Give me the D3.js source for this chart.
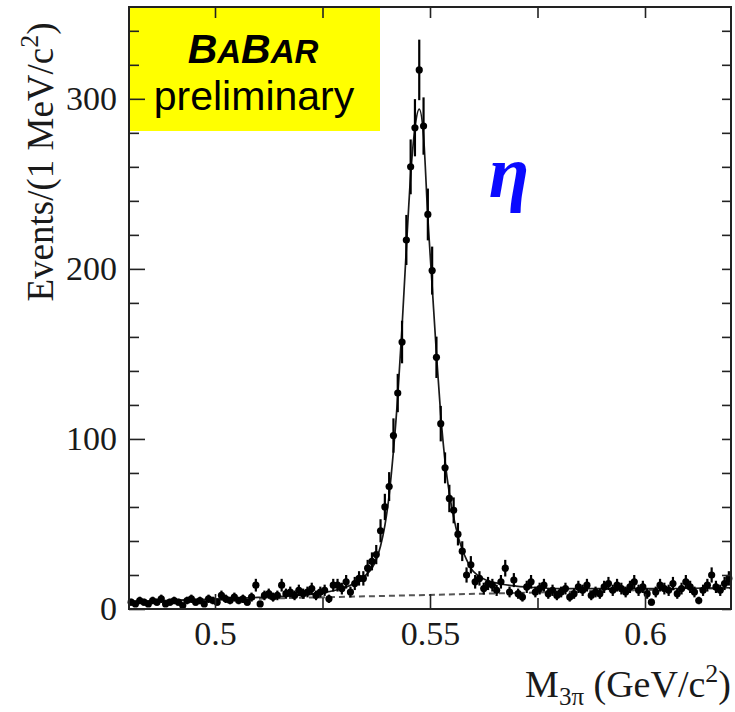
<!DOCTYPE html>
<html lang="en">
	<head>
		<meta charset="utf-8">
		<title>eta peak</title>
		<script src="https://d3js.org/d3.v7.min.js"></script>
		<style type="text/css">
			body { margin: 0; background: white; }
			.tick text {
				font-family: "Liberation Serif", "Times New Roman", serif;
				font-size: 34px;
				fill: #1a1a1a;
			}
			.tick line { stroke: #222; stroke-width: 1.6; }
			.title {
				font-family: "Liberation Serif", "Times New Roman", serif;
				font-size: 37px;
				fill: #1a1a1a;
			}
		</style>
	</head>
	<body>
		<div id="chart"></div>
		<script type="text/javascript">

			// M(3pi) histogram, 1 MeV bins from 0.480 to 0.620 GeV
			var binLow = 0.480;
			var binWidth = 0.001;
			var counts = [
				4,3,5,4,3,5,4,6,3,4,
				5,4,2,5,6,4,5,3,6,5,
				4,8,6,5,7,5,6,4,7,14,
				3,8,9,7,8,14,9,10,8,11,
				9,10,12,8,10,11,6,14,14,12,
				16,10,15,18,18,24,28,32,46,60,
				72,102,127,157,217,260,283,317,284,232,
				199,148,109,83,65,58,44,34,20,26,
				16,18,12,15,14,11,16,24,10,17,
				9,7,13,16,10,12,14,9,11,8,
				10,12,7,9,13,11,14,8,10,9,
				13,15,11,14,12,10,13,16,11,13,
				9,4,10,14,12,11,15,9,12,16,
				13,10,5,11,14,20,13,11,15,18
			];

			// total fit
			var fitMass = [0.480, 0.500, 0.510, 0.520, 0.525, 0.528, 0.530, 0.532, 0.534, 0.5355,
				0.5365, 0.5375, 0.5385, 0.5395, 0.5405, 0.5415, 0.5425, 0.5435, 0.5445, 0.5455,
				0.5465, 0.5475, 0.5485, 0.5495, 0.5505, 0.5515, 0.5525, 0.5535, 0.5545, 0.5555,
				0.5565, 0.5575, 0.5585, 0.5595, 0.561, 0.563, 0.566, 0.570, 0.575, 0.580, 0.600, 0.620];
			var fitVal = [4.4, 5.8, 6.8, 8.2, 9.5, 11, 12.5, 14.5, 18, 21,
				24, 29, 37, 49, 67, 93, 125, 166, 212, 255,
				283, 294, 278, 230, 190, 150, 114, 87, 68, 54,
				43, 35, 29, 24, 20, 17, 15, 13.5, 12.5, 12, 12, 12.5];

			// background (dashed)
			var bkgMass = [0.480, 0.620];
			var bkgVal = [4.3, 12.3];

			var xMajor = [0.5, 0.55, 0.6];
			var xMinor = [0.525, 0.575];
			var yMajor = [0, 100, 200, 300];
			var yMinor = [20, 40, 60, 80, 120, 140, 160, 180, 220, 240, 260, 280, 320, 340];

			var w = 735;
			var h = 712;
			// frame edges (note: "top" is taken by window.top)
			var x0 = 129, x1 = 731, y0 = 609, y1 = 7;

			var svg = d3.select("#chart")
				.append("svg")
				.attr("width", w)
				.attr("height", h);

			var xScale = d3.scaleLinear().domain([0.48, 0.62]).range([x0, x1]);
			var yScale = d3.scaleLinear().domain([0, 354]).range([y0, y1]);

			var data = counts.map(function(c, i) {
				return { m: binLow + (i + 0.5) * binWidth, n: c };
			});

			//yellow label box
			svg.append("rect")
				.attr("x", 130).attr("y", 8)
				.attr("width", 250).attr("height", 123)
				.style("fill", "#ffff00");

			var babar = svg.append("text")
				.attr("x", 253).attr("y", 63)
				.attr("text-anchor", "middle")
				.style("font-family", "'Liberation Sans', Arial, sans-serif")
				.style("font-weight", "bold")
				.style("font-style", "italic")
				.style("fill", "black");
			babar.append("tspan").style("font-size", "41px").text("B");
			babar.append("tspan").style("font-size", "33px").text("A");
			babar.append("tspan").style("font-size", "41px").text("B");
			babar.append("tspan").style("font-size", "33px").text("AR");

			svg.append("text")
				.attr("x", 254).attr("y", 110)
				.attr("text-anchor", "middle")
				.style("font-family", "'Liberation Sans', Arial, sans-serif")
				.style("font-size", "41px")
				.style("fill", "black")
				.text("preliminary");

			// eta label
			svg.append("text")
				.attr("x", 509).attr("y", 197)
				.attr("text-anchor", "middle")
				.style("font-family", "'Liberation Serif', 'Times New Roman', serif")
				.style("font-style", "italic")
				.style("font-weight", "bold")
				.style("font-size", "74px")
				.style("fill", "#0a0aff")
				.text("\u03b7");

			//background line
			var line = d3.line()
				.x(function(d) { return xScale(d[0]); })
				.y(function(d) { return yScale(d[1]); });

			svg.append("path")
				.datum(d3.zip(bkgMass, bkgVal))
				.attr("d", line)
				.style("fill", "none")
				.style("stroke", "#555")
				.style("stroke-width", 2)
				.style("stroke-dasharray", "6,4");

			// fit curve
			svg.append("path")
				.datum(d3.zip(fitMass, fitVal))
				.attr("d", line.curve(d3.curveMonotoneX))
				.style("fill", "none")
				.style("stroke", "#1a1a1a")
				.style("stroke-width", 1.7);

			// error bars
			var pts = svg.append("g");
			pts.selectAll("line.ey")
				.data(data)
				.enter()
				.append("line")
				.attr("class", "ey")
				.attr("x1", function(d) { return xScale(d.m); })
				.attr("x2", function(d) { return xScale(d.m); })
				.attr("y1", function(d) { return yScale(Math.max(d.n - Math.sqrt(d.n), 0)); })
				.attr("y2", function(d) { return yScale(d.n + Math.sqrt(d.n)); })
				.style("stroke", "black")
				.style("stroke-width", 2.2);

			pts.selectAll("line.ex")
				.data(data)
				.enter()
				.append("line")
				.attr("class", "ex")
				.attr("x1", function(d) { return xScale(d.m - binWidth / 2); })
				.attr("x2", function(d) { return xScale(d.m + binWidth / 2); })
				.attr("y1", function(d) { return yScale(d.n); })
				.attr("y2", function(d) { return yScale(d.n); })
				.style("stroke", "black")
				.style("stroke-width", 2.2);

			pts.selectAll("circle")
				.data(data)
				.enter()
				.append("circle")
				.attr("cx", function(d) { return xScale(d.m); })
				.attr("cy", function(d) { return yScale(d.n); })
				.attr("r", 3.6)
				.style("fill", "black");

			// axes, ticks pointing inward
			svg.append("g")
				.attr("transform", "translate(0," + y0 + ")")
				.call(d3.axisBottom(xScale).tickValues(xMinor).tickSize(-11).tickSizeOuter(0).tickFormat(""));
			svg.append("g")
				.attr("transform", "translate(0," + y0 + ")")
				.call(d3.axisBottom(xScale).tickValues(xMajor).tickSize(-15).tickSizeOuter(0).tickPadding(12)
					.tickFormat(function(d) { return d3.format("")(d); }));
			svg.append("g")
				.attr("transform", "translate(0," + y1 + ")")
				.call(d3.axisTop(xScale).tickValues(xMajor.concat(xMinor)).tickSize(-11).tickSizeOuter(0).tickFormat(""));

			svg.append("g")
				.attr("transform", "translate(" + x0 + ",0)")
				.call(d3.axisLeft(yScale).tickValues(yMinor).tickSize(-10).tickSizeOuter(0).tickFormat(""));
			svg.append("g")
				.attr("transform", "translate(" + x0 + ",0)")
				.call(d3.axisLeft(yScale).tickValues(yMajor).tickSize(-16).tickSizeOuter(0).tickPadding(12));
			svg.append("g")
				.attr("transform", "translate(" + x1 + ",0)")
				.call(d3.axisRight(yScale).tickValues(yMinor.concat(yMajor)).tickSize(-9).tickSizeOuter(0).tickFormat(""));

			svg.selectAll(".domain").remove();

			// frame
			svg.append("rect")
				.attr("x", x0).attr("y", y1)
				.attr("width", x1 - x0).attr("height", y0 - y1)
				.style("fill", "none")
				.style("stroke", "#222")
				.style("stroke-width", 2);

			// y title
			var ylab = svg.append("text")
				.attr("class", "title")
				.attr("text-anchor", "middle")
				.attr("transform", "translate(53,162) rotate(-90)");
			ylab.append("tspan").text("Events/(1 MeV/c");
			ylab.append("tspan").attr("dy", -15).style("font-size", "26px").text("2");
			ylab.append("tspan").attr("dy", 15).text(")");

			// x title
			var xlab = svg.append("text")
				.attr("class", "title")
				.attr("text-anchor", "end")
				.attr("x", 731).attr("y", 697);
			xlab.append("tspan").style("font-size", "38px").text("M");
			xlab.append("tspan").attr("dy", 8).style("font-size", "25px").text("3\u03c0");
			xlab.append("tspan").attr("dy", -8).style("font-size", "38px").text(" (GeV/c");
			xlab.append("tspan").attr("dy", -15).style("font-size", "26px").text("2");
			xlab.append("tspan").attr("dy", 15).style("font-size", "38px").text(")");

		</script>
	</body>
</html>
